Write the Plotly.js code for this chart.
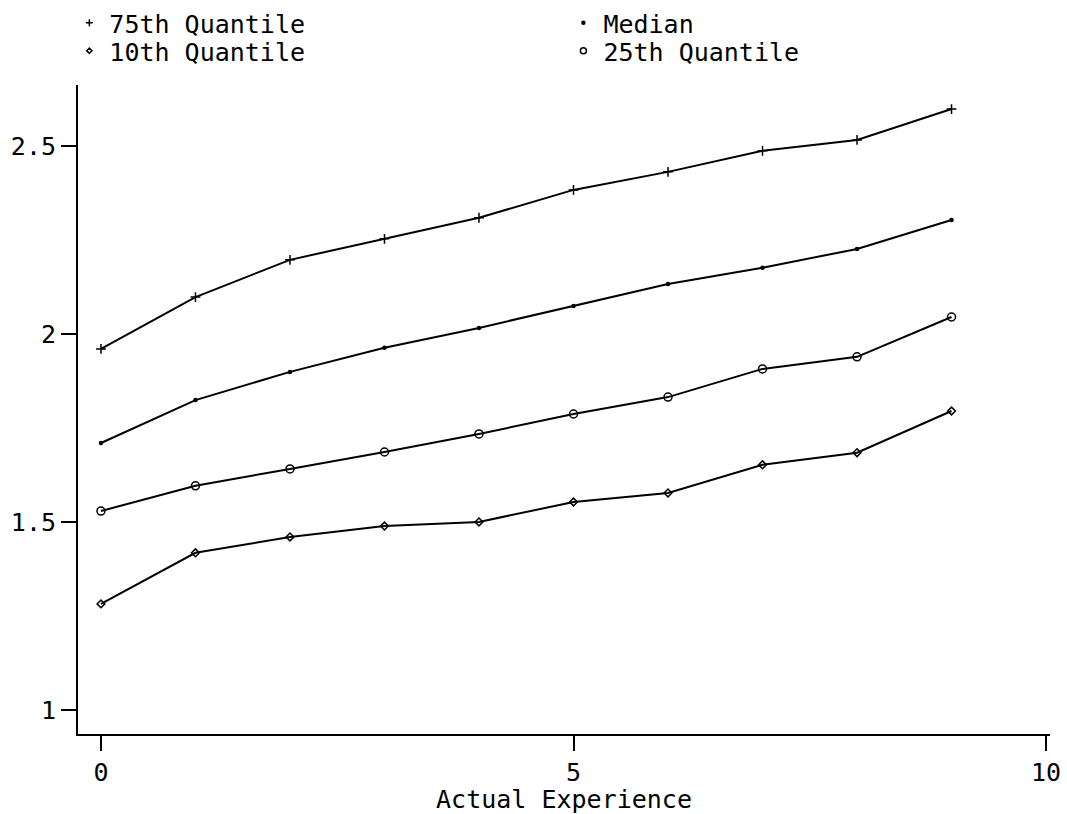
<!DOCTYPE html>
<html><head><meta charset="utf-8">
<script src="https://cdn.plot.ly/plotly-3.0.1.min.js"></script>
<style>html,body{margin:0;padding:0;background:#fff}#chart{width:1067px;height:814px}</style>
</head><body><div id="chart"></div>
<script>
const experience = [0,1,2,3,4,5,6,7,8,9];
const q75 = [1.960,2.098,2.197,2.253,2.309,2.383,2.431,2.487,2.516,2.598];
const median = [1.710,1.824,1.899,1.963,2.016,2.074,2.133,2.176,2.226,2.303];
const q25 = [1.529,1.596,1.641,1.686,1.734,1.787,1.832,1.907,1.939,2.045];
const q10 = [1.282,1.418,1.460,1.489,1.500,1.553,1.577,1.652,1.684,1.795];
const seriesNames = ['75th Quantile','Median','10th Quantile','25th Quantile'];
const seriesData = [q75, median, q10, q25];
const symbols = ['cross-thin-open','circle','diamond-open','circle-open'];
const sizes = [7,3,6,8];
const legendIds = ['legend','legend2','legend3','legend4'];

const traces = [];
seriesData.forEach((d,i)=>{
  traces.push({x:experience,y:d,mode:'lines+markers',showlegend:false,
    line:{color:'#000',width:2},
    marker:{symbol:symbols[i],size:sizes[i],color:'#000',line:{color:'#000',width:1.5}}});
});
seriesData.forEach((d,i)=>{
  traces.push({x:[null],y:[null],mode:'markers',name:seriesNames[i],showlegend:true,legend:legendIds[i],
    marker:{symbol:symbols[i],size:Math.max(sizes[i]-2,3),color:'#000',line:{color:'#000',width:1.5}}});
});

const font = {family:'DejaVu Sans Mono, monospace',size:25,color:'#000'};
const legendBase = {orientation:'v',xanchor:'left',yanchor:'top',
    xref:'container',yref:'container',font:font,bgcolor:'rgba(0,0,0,0)'};
const col1 = 0.065, col2 = 0.528, row1 = 1.0, row2 = 1-28/814;
const layout = {
  width:1067,height:814,
  paper_bgcolor:'#fff',plot_bgcolor:'#fff',
  font:font,
  margin:{l:78,r:17,t:85,b:80,autoexpand:false},
  showlegend:true,
  legend:Object.assign({},legendBase,{x:col1,y:row1}),
  legend2:Object.assign({},legendBase,{x:col2,y:row1}),
  legend3:Object.assign({},legendBase,{x:col1,y:row2}),
  legend4:Object.assign({},legendBase,{x:col2,y:row2}),
  xaxis:{range:[-0.243,10.042],tickvals:[0,5,10],ticks:'outside',ticklen:15,tickwidth:2,
    tickcolor:'#000',showline:true,linecolor:'#000',linewidth:2,showgrid:false,zeroline:false,
    title:{text:'Actual Experience',font:font,standoff:2},tickfont:font},
  yaxis:{range:[0.936,2.662],tickvals:[1,1.5,2,2.5],ticks:'outside',ticklen:15,tickwidth:2,
    tickcolor:'#000',showline:true,linecolor:'#000',linewidth:2,showgrid:false,zeroline:false,
    tickfont:font}
};
Plotly.newPlot('chart',traces,layout,{displayModeBar:false,staticPlot:true});
</script></body></html>
